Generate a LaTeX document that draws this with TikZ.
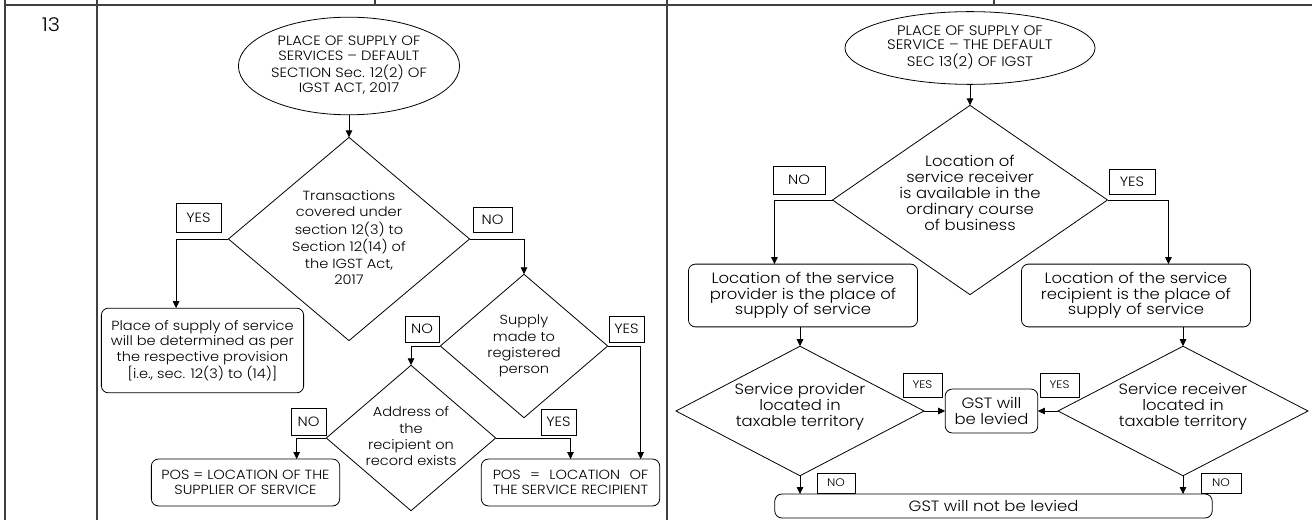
\documentclass[tikz,border=0pt]{standalone}
\usepackage{fontspec}
\setmainfont{Poppins}[FakeStretch=1.1, UprightFont=* Light]
\usetikzlibrary{shapes.geometric,arrows.meta,calc}
\newlength{\poswd}
\newcommand{\zw}[1]{\makebox[0pt]{\begin{tabular}{@{}c@{}}#1\end{tabular}}}
\begin{document}
\begin{tikzpicture}[x=1bp,y=-1bp,
  every node/.style={font=\fontsize{13.3}{15.5}\selectfont, inner sep=0pt, outer sep=0pt},
  rfont/.style={font=\fontsize{15}{15.5}\selectfont},
  ln/.style={line width=0.8bp, draw=black},
  tbl/.style={line width=1.5bp, draw=black!75},
  arr/.style={ln, -{Triangle[length=7bp,width=6.5bp]}},
  dia/.style={ln, diamond},
  rbox/.style={ln, rectangle, rounded corners=7bp, align=center},
  lab/.style={ln, rectangle, font=\fontsize{13.5}{15}\selectfont},
  slab/.style={ln, rectangle, font=\fontsize{11}{12}\selectfont},
  ell/.style={ln, ellipse}]
\useasboundingbox (0,0) rectangle (1312,520);
% table frame
\draw[tbl] (5,0) -- (5,520);
\draw[tbl] (97,0) -- (97,520);
\draw[tbl] (667,0) -- (667,520);
\draw[tbl] (5,5) -- (1312,5);
\draw[tbl] (375,0) -- (375,5);
\draw[tbl] (994,0) -- (994,5);
\node[font=\fontsize{19}{22}\selectfont] (num) at (51,25) {13};
% ---------- left flowchart ----------
\node[ell, minimum width=222, minimum height=98, font=\fontsize{13.5}{15}\selectfont] (e1) at (349,66)
  {\zw{PLACE OF SUPPLY OF\\SERVICES – DEFAULT\\SECTION Sec. 12(2) OF\\IGST ACT, 2017}};
\node[dia, minimum width=242, minimum height=204, font=\fontsize{13.3}{16.7}\selectfont] (d1) at (349,239)
  {\zw{Transactions\\covered under\\section 12(3) to\\Section 12(14) of\\the IGST Act,\\2017}};
\node[lab, minimum width=45, minimum height=29] (yes1) at (198.5,217.5) {YES};
\node[lab, minimum width=39, minimum height=25] (no1) at (492.5,219.5) {NO};
\node[rbox, minimum width=203, minimum height=85] (rb1) at (202.5,350.5)
  {Place of supply of service\\will be determined as per\\the respective provision\\{[i.e., sec. 12(3) to (14)]}};
\node[dia, minimum width=168, minimum height=144, font=\fontsize{13.3}{16.5}\selectfont] (d2) at (524,346)
  {\zw{Supply\\made to\\registered\\person}};
\node[lab, minimum width=34, minimum height=26] (no2) at (422,329) {NO};
\node[lab, minimum width=35, minimum height=26] (yes2) at (626.5,329) {YES};
\node[dia, minimum width=170, minimum height=146, font=\fontsize{13.3}{16.5}\selectfont] (d3) at (411,438)
  {\zw{Address of\\the\\recipient on\\record exists}};
\node[lab, minimum width=35, minimum height=27] (no3) at (308.5,421.5) {NO};
\node[lab, minimum width=35, minimum height=26] (yes3) at (558.5,422) {YES};
\node[rbox, minimum width=189, minimum height=47] (pos1) at (245.5,482.5)
  {POS = LOCATION OF THE\\SUPPLIER OF SERVICE};
\node[rbox, minimum width=179, minimum height=47] (pos2) at (570.5,482.5)
  {\settowidth{\poswd}{THE SERVICE RECIPIENT}\makebox[\poswd][s]{POS = LOCATION OF}\\THE SERVICE RECIPIENT};
\draw[arr] (e1.south) -- (d1.north);
\draw[arr] (d1.west) -| (yes1.west |- rb1.north);
\draw[arr] (d1.east) -| (d2.north);
\draw[arr] (d2.west) -| (d3.north);
\draw[arr] (d2.east) -| ($(pos2.north east)+(-19,0)$);
\draw[arr] (d3.west) -| ($(pos1.north east)+(-43,0)$);
\draw[arr] (d3.east) -| (pos2.north);
% ---------- right flowchart ----------
\node[ell, minimum width=251, minimum height=73, font=\fontsize{13.8}{14}\selectfont] (e2) at (970,48)
  {\zw{PLACE OF SUPPLY OF\\SERVICE – THE DEFAULT\\SEC 13(2) OF IGST}};
\node[dia, rfont, minimum width=276, minimum height=190] (d4) at (970,200)
  {\zw{Location of\\service receiver\\is available in the\\ordinary course\\of business\\[10bp]}};
\node[lab, minimum width=52, minimum height=28] (no4) at (799,180) {NO};
\node[lab, minimum width=46, minimum height=25] (yes4) at (1132,181.5) {YES};
\node[rbox, rfont, minimum width=230, minimum height=63] (bA) at (803,295.5)
  {Location of the service\\provider is the place of\\supply of service};
\node[rbox, rfont, minimum width=230, minimum height=63] (bB) at (1136,295.5)
  {Location of the service\\recipient is the place of\\supply of service};
\node[dia, rfont, minimum width=249, minimum height=130] (d5) at (800,411)
  {\zw{Service provider\\located in\\taxable territory\\[8bp]}};
\node[dia, rfont, minimum width=251, minimum height=130] (d6) at (1183,411)
  {\zw{Service receiver\\located in\\taxable territory\\[8bp]}};
\node[rbox, rfont, minimum width=93, minimum height=44] (gst) at (991.5,411) {GST will\\be levied};
\node[slab, minimum width=39, minimum height=24] (yes5) at (922.5,385) {YES};
\node[slab, minimum width=39, minimum height=24] (yes6) at (1059.5,385) {YES};
\node[slab, minimum width=38, minimum height=20] (no5) at (836,483) {NO};
\node[slab, minimum width=40, minimum height=20] (no6) at (1221,483) {NO};
\node[rbox, rfont, minimum width=439, minimum height=24] (notbox) at (993.5,506) {GST will not be levied};
\draw[arr] (e2.south) -- (d4.north);
\draw[arr] (d4.west) -| ($(bA.north west)+(86,0)$);
\draw[arr] (d4.east) -| ($(bB.north west)+(147,0)$);
\draw[arr] (bA.south -| d5.north) -- (d5.north);
\draw[arr] (bB.south -| d6.north) -- (d6.north);
\draw[arr] (d5.east) -- (gst.west);
\draw[arr] (d6.west) -- (gst.east);
\draw[arr] (d5.south) -- (d5.south |- notbox.north);
\draw[arr] (d6.south) -- (d6.south |- notbox.north);
\end{tikzpicture}
\end{document}
